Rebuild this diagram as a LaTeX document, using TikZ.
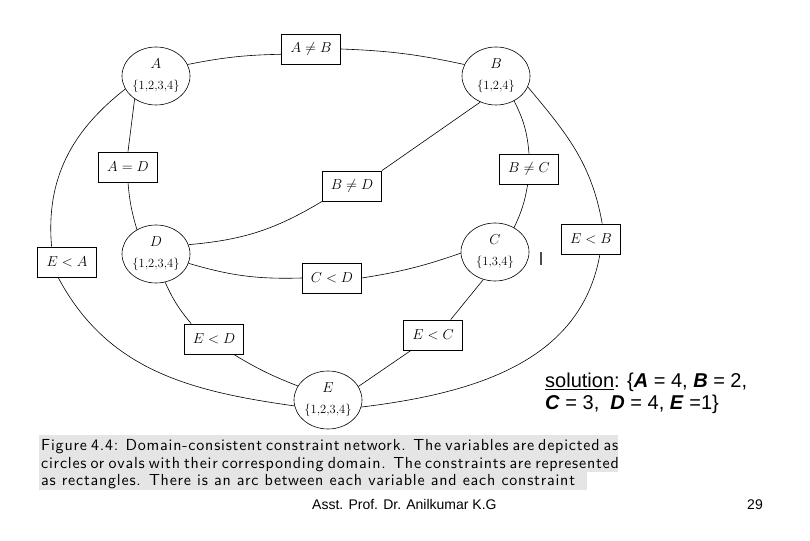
\documentclass[tikz,border=0pt]{standalone}
\usepackage{fontspec}
\newfontfamily\slidefont{Liberation Sans}
\newfontfamily\capfont{lmsans10-regular.otf}[LetterSpace=5]
\usetikzlibrary{shapes.geometric}
\tikzset{var/.style={draw, ellipse, line width=0.6pt, minimum width=68pt, minimum height=58pt, inner sep=0pt, align=center, font=\fontsize{14}{17}\selectfont}}
\tikzset{cons/.style={draw, rectangle, line width=0.8pt, minimum width=59pt, minimum height=30pt, inner sep=0pt, font=\fontsize{14}{16}\selectfont}}
\tikzset{link/.style={draw, line width=0.6pt}}
\tikzset{capline/.style={anchor=base west, inner sep=0pt, font=\capfont\fontsize{16}{18}\selectfont}}
\newcommand{\dom}[1]{{\fontsize{12.5}{12.5}\selectfont\{#1\}}}

\begin{document}
\begin{tikzpicture}[x=1pt,y=1pt]
    \useasboundingbox (0,0) rectangle (810,540);

    % variables
    \node [var] (A) at (156,464) {$A$\\[4pt]\dom{1,2,3,4}};
    \node [var] (B) at (496,464) {$B$\\[4pt]\dom{1,2,4}};
    \node [var] (C) at (495,288) {$C$\\[4pt]\dom{1,3,4}};
    \node [var] (D) at (156,286) {$D$\\[4pt]\dom{1,2,3,4}};
    \node [var] (E) at (328,140) {$E$\\[4pt]\dom{1,2,3,4}};

    % constraints
    \node [cons] (AneB) at (311,491) {$A\neq B$};
    \node [cons] (BneC) at (529,371) {$B\neq C$};
    \node [cons] (EltB) at (591,301) {$E<B$};
    \node [cons] (AeqD) at (128,373) {$A=D$};
    \node [cons] (BneD) at (352,354) {$B\neq D$};
    \node [cons] (EltA) at (67,278) {$E<A$};
    \node [cons] (CltD) at (332,262) {$C<D$};
    \node [cons] (EltD) at (214,201) {$E<D$};
    \node [cons] (EltC) at (433,205) {$E<C$};

    % arcs
    \path [link] (A.20) to[bend left=5] (AneB.190);
    \path [link] (AneB.east) to[bend left=5] (B.160);
    \path [link] (A.227) -- (AeqD.north);
    \path [link] (AeqD.south) to[bend right=6] (D.128);
    \path [link] (A.203) to[out=218,in=95] (EltA.135);
    \path [link] (EltA.240) to[out=-62,in=172] (E.190);
    \path [link] (D.288) to[bend right=8] (EltD.146);
    \path [link] (EltD.322) to[bend right=5] (E.155);
    \path [link] (E.24) -- (EltC.215);
    \path [link] (EltC.41) -- (C.247);
    \path [link] (C.182) to[bend left=5] (CltD.east);
    \path [link] (CltD.west) to[bend left=9] (D.344);
    \path [link] (D.16) to[bend right=13] (BneD.south west);
    \path [link] (BneD.north east) -- (B.239);
    \path [link] (B.306) to[bend left=11] (BneC.north);
    \path [link] (BneC.265) to[bend left=8] (C.52);
    \path [link] (B.341) to[out=-50,in=100] (EltB.54);
    \path [link] (EltB.300) to[out=-100,in=7] (E.348);

    % stray mark
    \draw [gray!60!black, line width=1.5pt] (541,288) -- (541,275);

    % caption
    \fill [black!10] (39,105) rectangle (618,68);
    \fill [black!10] (39,68) rectangle (587,50);
    \node [capline] (cap1) at (41,89) {\makebox[577pt][s]{Figure 4.4: Domain-consistent constraint network. The variables are depicted as}};
    \node [capline] (cap2) at (41,71) {\makebox[577pt][s]{circles or ovals with their corresponding domain. The constraints are represented}};
    \node [capline] (cap3) at (41,54) {as rectangles. There is an arc between each variable and each constraint};

    % solution
    \node [anchor=base west, inner sep=0pt, font=\slidefont\fontsize{20}{22}\selectfont] (sol1) at (545,152) {\underline{solution}: \{\textbf{\textit{A}} = 4, \textbf{\textit{B}} = 2,};
    \node [anchor=base west, inner sep=0pt, font=\slidefont\fontsize{20}{22}\selectfont] (sol2) at (545,130) {\textbf{\textit{C}} = 3,\ \ \textbf{\textit{D}} = 4, \textbf{\textit{E}} =1\}};

    % footer
    \node [anchor=base west, inner sep=0pt, font=\slidefont\fontsize{14}{16}\selectfont] (author) at (312,30) {Asst. Prof. Dr. Anilkumar K.G};
    \node [anchor=base east, inner sep=0pt, font=\slidefont\fontsize{14}{16}\selectfont] (page) at (763,30) {29};
\end{tikzpicture}
\end{document}
